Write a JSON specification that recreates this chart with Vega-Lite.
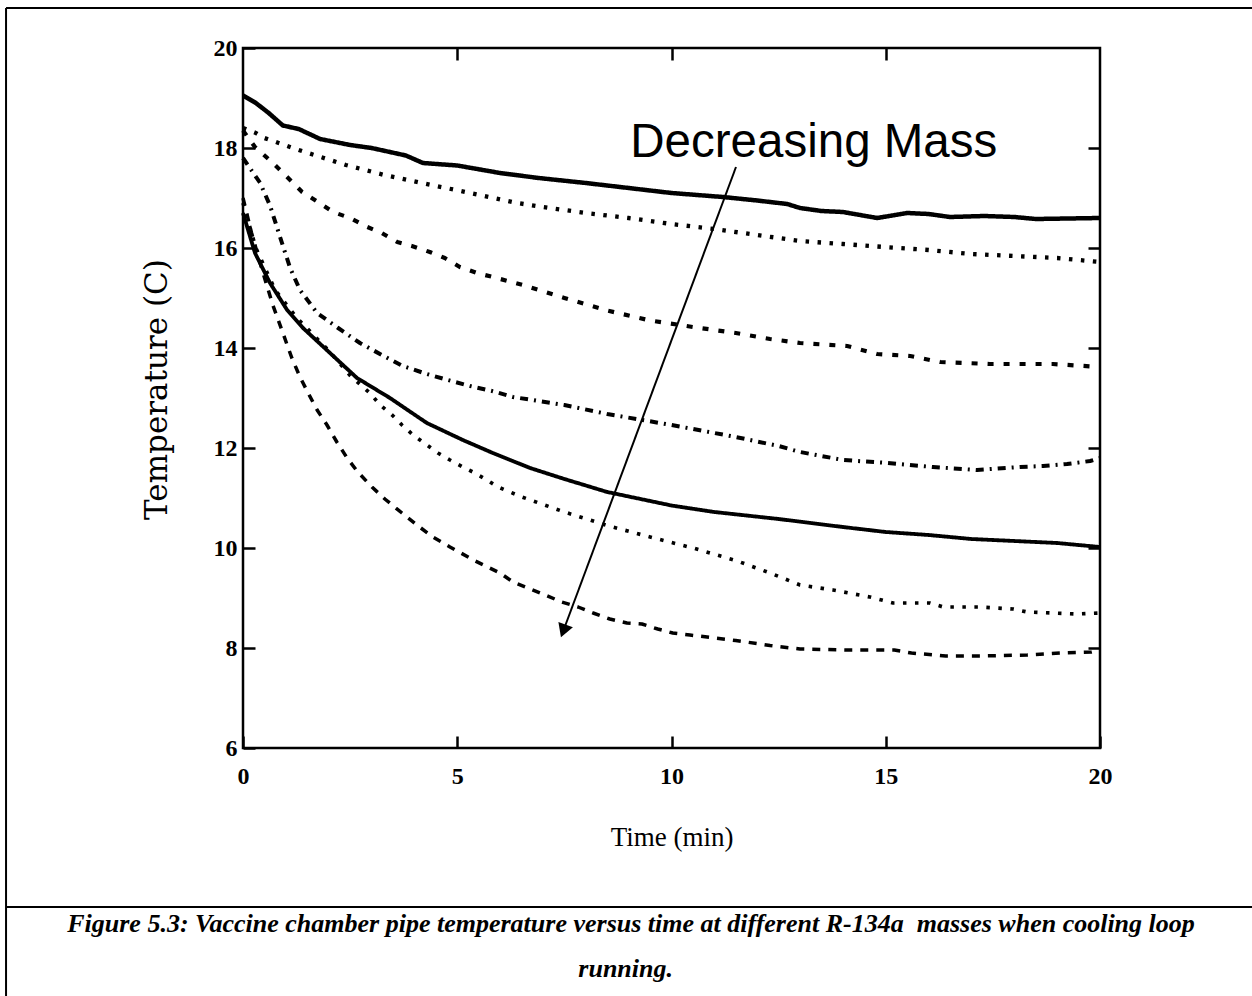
{
  "$schema": "https://vega.github.io/schema/vega-lite/v6.json",
  "width": 857,
  "height": 700,
  "autosize": "none",
  "padding": {"left": 243, "top": 48, "right": 152, "bottom": 248},
  "background": "white",
  "config": {
    "view": {"stroke": "black", "strokeWidth": 2.5},
    "axis": {"grid": false, "domain": false, "tickColor": "black", "tickWidth": 2.5, "labelColor": "black", "titleColor": "black"}
  },
  "resolve": {"axis": {"x": "independent", "y": "independent"}},
  "layer": [
    {
      "data": {"values": [
        {"s":"m1","t":0,"T":19.05},{"s":"m1","t":0.3,"T":18.9},{"s":"m1","t":0.6,"T":18.7},{"s":"m1","t":0.93,"T":18.45},{"s":"m1","t":1.3,"T":18.38},{"s":"m1","t":1.8,"T":18.18},{"s":"m1","t":2.5,"T":18.06},{"s":"m1","t":3.0,"T":18.0},{"s":"m1","t":3.43,"T":17.92},{"s":"m1","t":3.8,"T":17.85},{"s":"m1","t":4.2,"T":17.7},{"s":"m1","t":5,"T":17.65},{"s":"m1","t":6,"T":17.5},{"s":"m1","t":6.9,"T":17.4},{"s":"m1","t":8,"T":17.3},{"s":"m1","t":9,"T":17.2},{"s":"m1","t":10,"T":17.1},{"s":"m1","t":11.2,"T":17.02},{"s":"m1","t":12,"T":16.95},{"s":"m1","t":12.7,"T":16.88},{"s":"m1","t":13,"T":16.8},{"s":"m1","t":13.5,"T":16.74},{"s":"m1","t":14,"T":16.72},{"s":"m1","t":14.8,"T":16.6},{"s":"m1","t":15.5,"T":16.7},{"s":"m1","t":16,"T":16.68},{"s":"m1","t":16.5,"T":16.62},{"s":"m1","t":17.3,"T":16.64},{"s":"m1","t":18,"T":16.62},{"s":"m1","t":18.5,"T":16.58},{"s":"m1","t":20,"T":16.6},
        {"s":"m2","t":0,"T":18.4},{"s":"m2","t":0.3,"T":18.3},{"s":"m2","t":0.5,"T":18.2},{"s":"m2","t":1.3,"T":17.96},{"s":"m2","t":2.4,"T":17.66},{"s":"m2","t":3.3,"T":17.46},{"s":"m2","t":4.4,"T":17.26},{"s":"m2","t":5.3,"T":17.1},{"s":"m2","t":6.4,"T":16.9},{"s":"m2","t":7,"T":16.82},{"s":"m2","t":8,"T":16.7},{"s":"m2","t":9,"T":16.6},{"s":"m2","t":10,"T":16.48},{"s":"m2","t":11,"T":16.38},{"s":"m2","t":12,"T":16.26},{"s":"m2","t":13,"T":16.14},{"s":"m2","t":14,"T":16.08},{"s":"m2","t":15.3,"T":16.0},{"s":"m2","t":16,"T":15.96},{"s":"m2","t":17,"T":15.88},{"s":"m2","t":18,"T":15.84},{"s":"m2","t":19,"T":15.8},{"s":"m2","t":20,"T":15.72},
        {"s":"m3","t":0,"T":18.35},{"s":"m3","t":0.28,"T":18.02},{"s":"m3","t":0.7,"T":17.7},{"s":"m3","t":1.03,"T":17.42},{"s":"m3","t":1.38,"T":17.12},{"s":"m3","t":1.75,"T":16.92},{"s":"m3","t":2.1,"T":16.72},{"s":"m3","t":2.5,"T":16.6},{"s":"m3","t":2.9,"T":16.42},{"s":"m3","t":3.24,"T":16.3},{"s":"m3","t":3.6,"T":16.12},{"s":"m3","t":3.94,"T":16.04},{"s":"m3","t":4.36,"T":15.92},{"s":"m3","t":4.71,"T":15.8},{"s":"m3","t":5.06,"T":15.62},{"s":"m3","t":5.46,"T":15.5},{"s":"m3","t":5.83,"T":15.42},{"s":"m3","t":6.53,"T":15.26},{"s":"m3","t":7.5,"T":15.0},{"s":"m3","t":8.5,"T":14.75},{"s":"m3","t":9.5,"T":14.55},{"s":"m3","t":10.5,"T":14.42},{"s":"m3","t":11.5,"T":14.3},{"s":"m3","t":12.3,"T":14.18},{"s":"m3","t":13,"T":14.1},{"s":"m3","t":14.1,"T":14.04},{"s":"m3","t":14.8,"T":13.88},{"s":"m3","t":15.57,"T":13.84},{"s":"m3","t":16.27,"T":13.72},{"s":"m3","t":17.43,"T":13.68},{"s":"m3","t":18.9,"T":13.68},{"s":"m3","t":20,"T":13.62},
        {"s":"m4","t":0,"T":17.8},{"s":"m4","t":0.4,"T":17.3},{"s":"m4","t":0.63,"T":16.85},{"s":"m4","t":0.91,"T":16.1},{"s":"m4","t":1.1,"T":15.6},{"s":"m4","t":1.33,"T":15.16},{"s":"m4","t":1.73,"T":14.7},{"s":"m4","t":2.22,"T":14.4},{"s":"m4","t":2.73,"T":14.1},{"s":"m4","t":3.24,"T":13.86},{"s":"m4","t":3.73,"T":13.64},{"s":"m4","t":4.29,"T":13.48},{"s":"m4","t":4.78,"T":13.36},{"s":"m4","t":5.3,"T":13.24},{"s":"m4","t":5.81,"T":13.14},{"s":"m4","t":6.3,"T":13.02},{"s":"m4","t":7.5,"T":12.86},{"s":"m4","t":8.5,"T":12.68},{"s":"m4","t":10,"T":12.46},{"s":"m4","t":11.5,"T":12.22},{"s":"m4","t":12.5,"T":12.04},{"s":"m4","t":13,"T":11.92},{"s":"m4","t":14,"T":11.76},{"s":"m4","t":15.05,"T":11.7},{"s":"m4","t":16.1,"T":11.62},{"s":"m4","t":17.13,"T":11.56},{"s":"m4","t":18.13,"T":11.62},{"s":"m4","t":18.67,"T":11.64},{"s":"m4","t":19.23,"T":11.68},{"s":"m4","t":19.77,"T":11.74},{"s":"m4","t":20,"T":11.8},
        {"s":"m5","t":0,"T":16.7},{"s":"m5","t":0.28,"T":15.9},{"s":"m5","t":0.63,"T":15.3},{"s":"m5","t":1.03,"T":14.76},{"s":"m5","t":1.4,"T":14.4},{"s":"m5","t":2.03,"T":13.9},{"s":"m5","t":2.66,"T":13.4},{"s":"m5","t":3.43,"T":13.0},{"s":"m5","t":4.29,"T":12.5},{"s":"m5","t":5.13,"T":12.16},{"s":"m5","t":5.83,"T":11.9},{"s":"m5","t":6.7,"T":11.6},{"s":"m5","t":7.5,"T":11.38},{"s":"m5","t":8.5,"T":11.12},{"s":"m5","t":10,"T":10.85},{"s":"m5","t":11,"T":10.72},{"s":"m5","t":12.5,"T":10.58},{"s":"m5","t":14,"T":10.42},{"s":"m5","t":15,"T":10.32},{"s":"m5","t":16,"T":10.26},{"s":"m5","t":17,"T":10.18},{"s":"m5","t":18,"T":10.14},{"s":"m5","t":18.5,"T":10.12},{"s":"m5","t":19,"T":10.1},{"s":"m5","t":20,"T":10.02},
        {"s":"m6","t":0,"T":16.9},{"s":"m6","t":0.3,"T":16.0},{"s":"m6","t":0.75,"T":15.16},{"s":"m6","t":1.26,"T":14.6},{"s":"m6","t":2,"T":13.95},{"s":"m6","t":2.5,"T":13.45},{"s":"m6","t":2.96,"T":13.1},{"s":"m6","t":3.2,"T":12.86},{"s":"m6","t":3.48,"T":12.66},{"s":"m6","t":3.71,"T":12.46},{"s":"m6","t":3.97,"T":12.26},{"s":"m6","t":4.29,"T":12.06},{"s":"m6","t":4.55,"T":11.9},{"s":"m6","t":4.83,"T":11.76},{"s":"m6","t":5.13,"T":11.62},{"s":"m6","t":5.41,"T":11.5},{"s":"m6","t":5.69,"T":11.36},{"s":"m6","t":5.95,"T":11.22},{"s":"m6","t":6.23,"T":11.12},{"s":"m6","t":6.51,"T":11.02},{"s":"m6","t":7.5,"T":10.72},{"s":"m6","t":8.5,"T":10.45},{"s":"m6","t":9.5,"T":10.22},{"s":"m6","t":10.5,"T":10.0},{"s":"m6","t":11.5,"T":9.75},{"s":"m6","t":12.3,"T":9.5},{"s":"m6","t":13,"T":9.26},{"s":"m6","t":13.77,"T":9.16},{"s":"m6","t":14.63,"T":9.02},{"s":"m6","t":15.17,"T":8.9},{"s":"m6","t":16.03,"T":8.9},{"s":"m6","t":16.34,"T":8.82},{"s":"m6","t":17.2,"T":8.82},{"s":"m6","t":17.97,"T":8.78},{"s":"m6","t":18.3,"T":8.72},{"s":"m6","t":19.46,"T":8.68},{"s":"m6","t":20,"T":8.7},
        {"s":"m7","t":0,"T":17.0},{"s":"m7","t":0.2,"T":16.3},{"s":"m7","t":0.45,"T":15.55},{"s":"m7","t":0.7,"T":14.85},{"s":"m7","t":0.91,"T":14.35},{"s":"m7","t":1.14,"T":13.8},{"s":"m7","t":1.33,"T":13.42},{"s":"m7","t":1.52,"T":13.1},{"s":"m7","t":1.73,"T":12.76},{"s":"m7","t":1.96,"T":12.46},{"s":"m7","t":2.19,"T":12.12},{"s":"m7","t":2.43,"T":11.8},{"s":"m7","t":2.68,"T":11.52},{"s":"m7","t":3.01,"T":11.22},{"s":"m7","t":3.31,"T":10.98},{"s":"m7","t":3.71,"T":10.7},{"s":"m7","t":4.06,"T":10.46},{"s":"m7","t":4.43,"T":10.22},{"s":"m7","t":4.83,"T":10.02},{"s":"m7","t":5.4,"T":9.75},{"s":"m7","t":6.0,"T":9.5},{"s":"m7","t":6.3,"T":9.32},{"s":"m7","t":6.7,"T":9.18},{"s":"m7","t":7.05,"T":9.06},{"s":"m7","t":7.44,"T":8.92},{"s":"m7","t":7.82,"T":8.82},{"s":"m7","t":8.17,"T":8.7},{"s":"m7","t":8.56,"T":8.58},{"s":"m7","t":8.96,"T":8.5},{"s":"m7","t":9.31,"T":8.48},{"s":"m7","t":9.68,"T":8.38},{"s":"m7","t":10.03,"T":8.3},{"s":"m7","t":10.43,"T":8.26},{"s":"m7","t":11.5,"T":8.15},{"s":"m7","t":12.3,"T":8.05},{"s":"m7","t":13,"T":7.98},{"s":"m7","t":14.1,"T":7.96},{"s":"m7","t":15.2,"T":7.96},{"s":"m7","t":15.6,"T":7.9},{"s":"m7","t":16.4,"T":7.84},{"s":"m7","t":17.2,"T":7.84},{"s":"m7","t":18.3,"T":7.86},{"s":"m7","t":19.1,"T":7.9},{"s":"m7","t":19.8,"T":7.92},{"s":"m7","t":20,"T":7.96}
      ]},
      "mark": {"type": "line", "color": "black", "strokeCap": "butt", "strokeJoin": "round"},
      "encoding": {
        "x": {"field": "t", "type": "quantitative", "scale": {"domain": [0, 20], "nice": false},
              "axis": {"orient": "bottom", "values": [0, 5, 10, 15, 20], "tickSize": -12, "labelPadding": 28, "labelFont": "Liberation Serif", "labelFontSize": 24, "labelFontWeight": "bold", "labelFlush": false,
                       "title": "Time (min)", "titleFont": "Liberation Serif", "titleFontSize": 27, "titleFontWeight": "normal", "titlePadding": 36}},
        "y": {"field": "T", "type": "quantitative", "scale": {"domain": [6, 20], "nice": false, "zero": false},
              "axis": {"orient": "left", "values": [6, 8, 10, 12, 14, 16, 18, 20], "tickSize": -12, "labelPadding": 18, "labelFont": "Liberation Serif", "labelFontSize": 24, "labelFontWeight": "bold", "labelFlush": false,
                       "title": "Temperature (C)", "titleFont": "DejaVu Serif", "titleFontSize": 31, "titleFontWeight": "normal", "titlePadding": 40, "titleY": 341}},
        "detail": {"field": "s"},
        "strokeDash": {"field": "s", "type": "nominal", "legend": null,
                       "scale": {"domain": ["m1","m2","m3","m4","m5","m6","m7"], "range": [[1,0],[3.5,8.5],[6,10],[8,6,2,6],[1,0],[3.5,8.5],[8,8]]}},
        "strokeWidth": {"field": "s", "type": "nominal", "legend": null,
                        "scale": {"domain": ["m1","m2","m3","m4","m5","m6","m7"], "range": [4.5, 3.5, 3.5, 3.5, 2, 3.5, 5]}}
      }
    },
    {
      "data": {"values": [{"a": 0}]},
      "mark": {"type": "rule", "opacity": 0},
      "encoding": {
        "x": {"datum": 5, "type": "quantitative", "scale": {"domain": [0, 20], "nice": false},
              "axis": {"orient": "top", "values": [5, 10, 15], "tickSize": -12, "labels": false, "title": null}},
        "y": {"datum": 10, "type": "quantitative", "scale": {"domain": [6, 20], "nice": false, "zero": false},
              "axis": {"orient": "right", "values": [8, 10, 12, 14, 16, 18], "tickSize": -12, "labels": false, "title": null}}
      }
    },
    {
      "data": {"values": [{"a": 0}]},
      "mark": {"type": "rule", "color": "black", "strokeWidth": 2},
      "encoding": {
        "x": {"datum": 11.505, "type": "quantitative", "axis": null},
        "y": {"datum": 17.62, "type": "quantitative", "axis": null},
        "x2": {"datum": 7.5},
        "y2": {"datum": 8.4}
      }
    },
    {
      "data": {"values": [{"a": 0}]},
      "mark": {"type": "point", "shape": "triangle-up", "filled": true, "color": "black", "opacity": 1, "size": 240, "angle": 200.5},
      "encoding": {
        "x": {"datum": 7.475, "type": "quantitative", "axis": null},
        "y": {"datum": 8.342, "type": "quantitative", "axis": null}
      }
    },
    {
      "data": {"values": [{"a": 0}]},
      "mark": {"type": "text", "text": "Decreasing Mass", "font": "Liberation Sans", "fontSize": 47.5, "align": "center", "baseline": "alphabetic", "color": "black"},
      "encoding": {
        "x": {"datum": 13.32, "type": "quantitative", "axis": null},
        "y": {"datum": 17.82, "type": "quantitative", "axis": null}
      }
    },
    {
      "data": {"values": [{"a": 0}]},
      "mark": {"type": "text", "text": "Figure 5.3: Vaccine chamber pipe temperature versus time at different R-134a\u00a0 masses when cooling loop", "font": "Liberation Serif", "fontSize": 26, "fontStyle": "italic", "fontWeight": "bold", "align": "center", "baseline": "alphabetic", "color": "black"},
      "encoding": {
        "x": {"datum": 9.055, "type": "quantitative", "axis": null},
        "y": {"datum": 2.32, "type": "quantitative", "axis": null}
      }
    },
    {
      "data": {"values": [{"a": 0}]},
      "mark": {"type": "text", "text": "running.", "font": "Liberation Serif", "fontSize": 26, "fontStyle": "italic", "fontWeight": "bold", "align": "center", "baseline": "alphabetic", "color": "black"},
      "encoding": {
        "x": {"datum": 8.93, "type": "quantitative", "axis": null},
        "y": {"datum": 1.42, "type": "quantitative", "axis": null}
      }
    },
    {
      "data": {"values": [{"a": 0}]},
      "mark": {"type": "rule", "color": "black", "strokeWidth": 2},
      "encoding": {
        "x": {"datum": -5.53, "type": "quantitative", "axis": null},
        "y": {"datum": 20.8, "type": "quantitative", "axis": null},
        "y2": {"datum": 1.0}
      }
    },
    {
      "data": {"values": [{"a": 0}]},
      "mark": {"type": "rule", "color": "black", "strokeWidth": 2},
      "encoding": {
        "x": {"datum": -5.53, "type": "quantitative", "axis": null},
        "x2": {"datum": 23.6},
        "y": {"datum": 20.8, "type": "quantitative", "axis": null}
      }
    },
    {
      "data": {"values": [{"a": 0}]},
      "mark": {"type": "rule", "color": "black", "strokeWidth": 2},
      "encoding": {
        "x": {"datum": -5.53, "type": "quantitative", "axis": null},
        "x2": {"datum": 23.6},
        "y": {"datum": 2.82, "type": "quantitative", "axis": null}
      }
    }
  ]
}
